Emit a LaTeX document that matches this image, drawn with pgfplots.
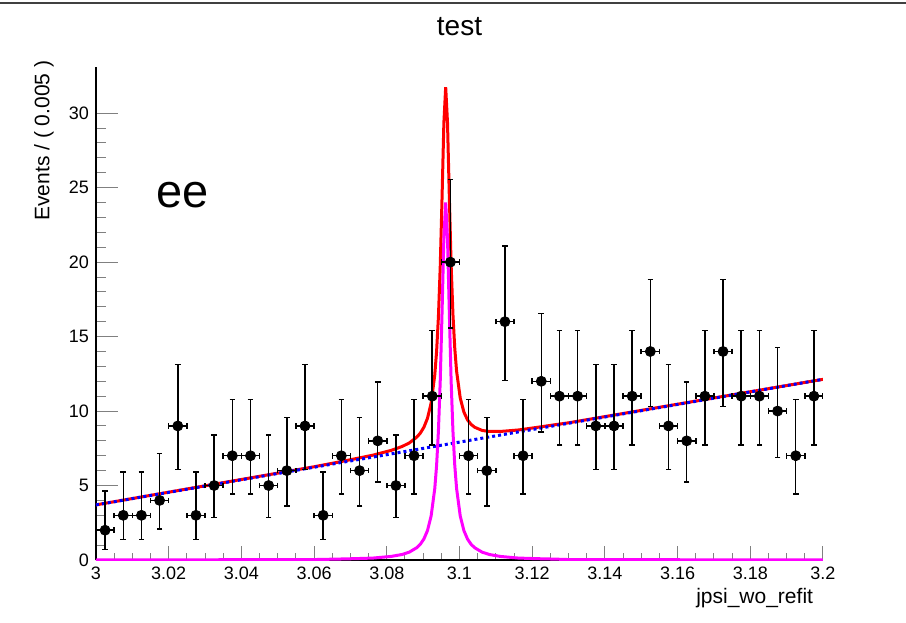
\documentclass[border=0pt]{standalone}
\usepackage{fontspec}
\setmainfont{Liberation Sans}
\usepackage{pgfplots}
\usepackage{pgfplotstable}
\pgfplotsset{compat=1.18}
\definecolor{rootmag}{RGB}{255,0,255}

% binned data: centre, count, Poisson errors (up, down), half bin width
\pgfplotstableread{
x      y   ep    em    ex
3.0025 2   2.64  1.29  0.0025
3.0075 3   2.92  1.63  0.0025
3.0125 3   2.92  1.63  0.0025
3.0175 4   3.16  1.91  0.0025
3.0225 9   4.11  2.94  0.0025
3.0275 3   2.92  1.63  0.0025
3.0325 5   3.38  2.16  0.0025
3.0375 7   3.77  2.58  0.0025
3.0425 7   3.77  2.58  0.0025
3.0475 5   3.38  2.16  0.0025
3.0525 6   3.58  2.38  0.0025
3.0575 9   4.11  2.94  0.0025
3.0625 3   2.92  1.63  0.0025
3.0675 7   3.77  2.58  0.0025
3.0725 6   3.58  2.38  0.0025
3.0775 8   3.95  2.77  0.0025
3.0825 5   3.38  2.16  0.0025
3.0875 7   3.77  2.58  0.0025
3.0925 11  4.42  3.27  0.0025
3.0975 20  5.54  4.43  0.0025
3.1025 7   3.77  2.58  0.0025
3.1075 6   3.58  2.38  0.0025
3.1125 16  5.08  3.96  0.0025
3.1175 7   3.77  2.58  0.0025
3.1225 12  4.56  3.41  0.0025
3.1275 11  4.42  3.27  0.0025
3.1325 11  4.42  3.27  0.0025
3.1375 9   4.11  2.94  0.0025
3.1425 9   4.11  2.94  0.0025
3.1475 11  4.42  3.27  0.0025
3.1525 14  4.83  3.70  0.0025
3.1575 9   4.11  2.94  0.0025
3.1625 8   3.95  2.77  0.0025
3.1675 11  4.42  3.27  0.0025
3.1725 14  4.83  3.70  0.0025
3.1775 11  4.42  3.27  0.0025
3.1825 11  4.42  3.27  0.0025
3.1875 10  4.27  3.11  0.0025
3.1925 7   3.77  2.58  0.0025
3.1975 11  4.42  3.27  0.0025
}\datatable

\begin{document}
\begin{tikzpicture}
\path[use as bounding box] (-48pt,-31pt) rectangle (405pt,280pt);
\begin{axis}[
  at={(0,0)}, anchor=south west,
  scale only axis, width=363.5pt, height=246.5pt,
  xmin=3, xmax=3.2, ymin=0, ymax=33.1,
  axis line style={line width=0.6pt},
  tick align=inside, axis x line*=bottom, axis y line*=left,
  xtick={3,3.02,3.04,3.06,3.08,3.1,3.12,3.14,3.16,3.18,3.2},
  xticklabels={3,3.02,3.04,3.06,3.08,3.1,3.12,3.14,3.16,3.18,3.2},
  minor x tick num=3,
  ytick={0,5,10,15,20,25,30},
  minor y tick num=4,
  xtick style={/pgfplots/major tick length=7pt,/pgfplots/minor tick length=3.5pt,line width=0.5pt},
  ytick style={/pgfplots/major tick length=11pt,/pgfplots/minor tick length=5pt,line width=0.5pt},
  /pgf/number format/assume math mode=true,
  ticklabel style={font=\fontsize{9}{10}\selectfont},
  title={test},
  title style={at={(0.5,1)}, anchor=base, yshift=9.5pt, font=\fontsize{14}{16}\selectfont},
  xlabel={jpsi\_wo\_refit},
  xlabel style={at={(axis description cs:0.996,-0.089)}, anchor=base east, font=\fontsize{10.5}{12}\selectfont},
  ylabel={Events / ( 0.005 )},
  ylabel style={at={(axis description cs:-0.0715,1.027)}, anchor=east, font=\fontsize{10.5}{12}\selectfont},
]
% total model
\addplot[red, line width=1.5pt] coordinates {
 (3.0,3.70) (3.06,6.26) (3.0662,6.55) (3.0712,6.79) (3.0762,7.04) (3.0812,7.36)
 (3.0842,7.62) (3.0862,7.86) (3.0882,8.24) (3.0892,8.51) (3.0902,8.91) (3.0912,9.52)
 (3.0922,10.54) (3.0932,12.43) (3.0937,14.00) (3.0942,16.31) (3.0947,19.69) (3.0952,24.33)
 (3.0957,29.33) (3.0962,31.75) (3.0967,29.37) (3.0972,24.41) (3.0977,19.81) (3.0982,16.48)
 (3.0987,14.21) (3.0992,12.68) (3.1002,10.88) (3.1012,9.94) (3.1022,9.41) (3.1032,9.10)
 (3.1042,8.91) (3.1062,8.70) (3.1082,8.63) (3.1112,8.63) (3.1162,8.73) (3.1212,8.90)
 (3.1262,9.08) (3.13,9.21) (3.2,12.13)
};
% background
\addplot[blue, line width=1.5pt, dash pattern=on 1.5pt off 1.5pt] coordinates {
 (3.0,3.70) (3.2,12.13)
};
% signal
\addplot[rootmag, line width=1.5pt] coordinates {
 (3.0,0) (3.06,0.03) (3.0662,0.06) (3.0712,0.09) (3.0762,0.13) (3.0812,0.24)
 (3.0842,0.37) (3.0862,0.53) (3.0882,0.82) (3.0892,1.05) (3.0902,1.41) (3.0912,1.98)
 (3.0922,2.96) (3.0932,4.80) (3.0937,6.35) (3.0942,8.64) (3.0947,12.00) (3.0952,16.62)
 (3.0957,21.60) (3.0962,24.00) (3.0967,21.60) (3.0972,16.62) (3.0977,12.00) (3.0982,8.64)
 (3.0987,6.35) (3.0992,4.80) (3.1002,2.96) (3.1012,1.98) (3.1022,1.41) (3.1032,1.05)
 (3.1042,0.82) (3.1062,0.53) (3.1082,0.37) (3.1112,0.24) (3.1162,0.13) (3.1212,0.09)
 (3.1262,0.06) (3.13,0.03) (3.2,0)
};
% data with error bars (caps on both directions)
\addplot[black, only marks, mark=*, mark size=2.5pt,
  error bars/.cd, x dir=both, x explicit, y dir=both, y explicit, error mark=|,
  error bar style={line width=0.75pt, black},
  error mark options={line width=0.75pt, mark size=1.4pt, black}]
  table[x=x, y=y, x error=ex, y error plus=ep, y error minus=em] {\datatable};
\node[anchor=base west, font=\fontsize{23.5}{26}\selectfont] at (rel axis cs:0.073,0.716) {ee};
\end{axis}
\draw[line width=1pt, black!75] (-48pt,278.5pt) -- (405pt,278.5pt);
\end{tikzpicture}
\end{document}
